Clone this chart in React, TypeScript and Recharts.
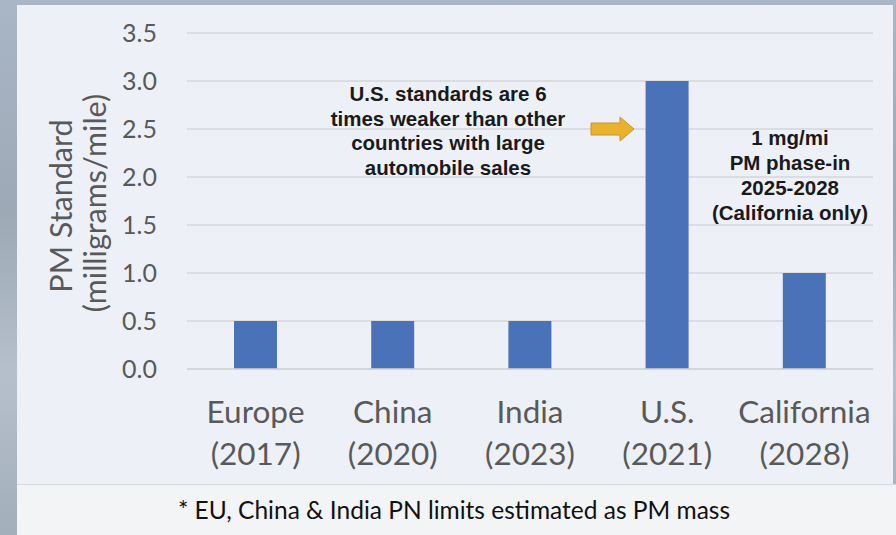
import { BarChart, Bar, XAxis, YAxis, CartesianGrid } from 'recharts'

const regions = ['Europe', 'China', 'India', 'U.S.', 'California']
const years = ['(2017)', '(2020)', '(2023)', '(2021)', '(2028)']
const pmLimits = [0.5, 0.5, 0.5, 3.0, 1.0]
const yTicks = [0, 0.5, 1, 1.5, 2, 2.5, 3, 3.5]

const leftNote = ['U.S. standards are 6', 'times weaker than other', 'countries with large', 'automobile sales']
const rightNote = ['1 mg/mi', 'PM phase-in', '2025-2028', '(California only)']
const caption = '* EU, China & India PN limits estimated as PM mass'

const chartData = regions.map((r, i) => ({ region: r, year: years[i], pm: pmLimits[i] }))

const font = 'Lato, "Open Sans", sans-serif'
const axisGray = '#595959'

function RegionTick({ x, y, payload, index }: any) {
  return (
    <g>
      <text x={x} y={y + 54} textAnchor="middle" fontSize={31.5} fill={axisGray} fontFamily={font}>
        {payload.value}
      </text>
      <text x={x} y={y + 96} textAnchor="middle" fontSize={31.5} fill={axisGray} fontFamily={font}>
        {years[index]}
      </text>
    </g>
  )
}

export default function App() {
  return (
    <div
      style={{
        position: 'fixed',
        left: 0,
        top: 0,
        width: 896,
        height: 535,
        overflow: 'hidden',
        background: 'linear-gradient(180deg, #a9b6c6 0%, #9ea9b6 40%, #b5c0cc 70%, #a3aebb 100%)',
      }}
    >
      <div style={{ position: 'absolute', left: 17, top: 5, width: 876, height: 479, background: '#edf1f7' }} />
      <div
        style={{
          position: 'absolute',
          left: 17,
          top: 484,
          width: 879,
          height: 51,
          background: '#f3f4f6',
          borderTop: '1px solid #d6dae0',
        }}
      />
      <BarChart
        width={896}
        height={484}
        data={chartData}
        margin={{ top: 33, right: 23, left: 0, bottom: 85 }}
        style={{ position: 'absolute', left: 0, top: 0 }}
      >
        <CartesianGrid vertical={false} stroke="#d2d4d8" strokeWidth={1.5} />
        <XAxis
          dataKey="region"
          height={30}
          axisLine={{ stroke: '#d2d4d8', strokeWidth: 1.5 }}
          tickLine={false}
          tickSize={0}
          tickMargin={0}
          interval={0}
          tick={<RegionTick />}
        />
        <YAxis
          width={187}
          domain={[0, 3.5]}
          ticks={yTicks}
          axisLine={false}
          tickLine={false}
          tickSize={0}
          tickMargin={30}
          tickFormatter={(v: number) => v.toFixed(1)}
          tick={{ fontSize: 25, fill: axisGray, fontFamily: font }}
        />
        <Bar dataKey="pm" fill="#4a72b9" barSize={43} isAnimationActive={false} />
      </BarChart>
      <svg width={896} height={535} style={{ position: 'absolute', left: 0, top: 0, pointerEvents: 'none' }}>
        <g fontFamily={font} fontSize={30.5} fill={axisGray}>
          <text transform="translate(72,206) rotate(-90)" textAnchor="middle">PM Standard</text>
          <text transform="translate(106,203) rotate(-90)" textAnchor="middle">(milligrams/mile)</text>
        </g>
        <g fontFamily='"Liberation Sans", Arial, sans-serif' fontWeight="bold" fontSize={20.5} fill="#1a1a1a">
          {leftNote.map((t, i) => (
            <text key={t} x={448} y={101 + i * 24.5} textAnchor="middle">{t}</text>
          ))}
        </g>
        <g fontFamily='"Liberation Sans", Arial, sans-serif' fontWeight="bold" fontSize={20.5} fill="#1a1a1a">
          {rightNote.map((t, i) => (
            <text key={t} x={790} y={145 + i * 25} textAnchor="middle">{t}</text>
          ))}
        </g>
        <path
          d="M591,123 L620,123 L620,117 L634,129 L620,141 L620,135 L591,135 Z"
          fill="#e9b22e"
          stroke="#c89422"
          strokeWidth={1}
        />
        <text x={454} y={519} textAnchor="middle" fontFamily={font} fontSize={24.5} fill="#111">
          {caption}
        </text>
      </svg>
    </div>
  )
}
